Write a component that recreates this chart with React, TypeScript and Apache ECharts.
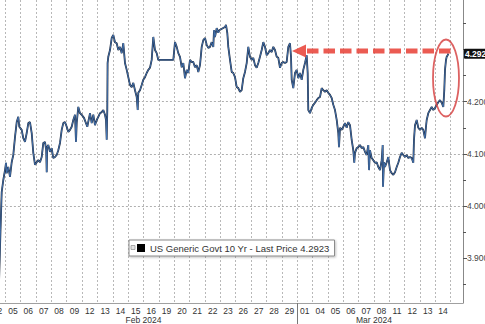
import React, { useEffect, useRef } from 'react';
import * as echarts from 'echarts';

// Trading-day labels (index 0 = Feb 02 ... index 29 = Mar 14)
const dayLabels = ['02','05','06','07','08','09','12','13','14','15','16','19','20','21','22','23','26','27','28','29','01','04','05','06','07','08','11','12','13','14'];
const monthNames = ['Feb 2024', 'Mar 2024'];
const monthFirstDay = [0, 20];
const monthLastDay = [19, 29];

const yLabelValues = [3.9, 4.0, 4.1, 4.2];
const yMajorValues = [3.9, 4.0, 4.1, 4.2, 4.3];
const yMinorValues = [3.85, 3.95, 4.05, 4.15, 4.25, 4.35];

const seriesName = 'US Generic Govt 10 Yr - Last Price';
const lastPriceFull = 4.2923;

// Intraday position (fractional trading-day index) and yield (%)
const tradingDayPos = [-0.234,0.091,0.189,0.267,0.371,0.482,0.547,0.592,0.697,0.807,0.918,1.022,1.133,1.244,1.348,1.413,1.569,1.673,1.784,1.895,1.999,2.109,2.220,2.324,2.435,2.546,2.650,2.760,2.871,2.975,3.086,3.164,3.197,3.229,3.301,3.411,3.522,3.626,3.737,3.848,3.952,4.063,4.173,4.277,4.388,4.499,4.603,4.714,4.824,4.928,5.039,5.104,5.150,5.254,5.365,5.475,5.625,5.840,6.016,6.126,6.231,6.341,6.452,6.556,6.667,6.777,6.881,6.992,7.057,7.103,7.142,7.161,7.207,7.318,7.428,7.532,7.643,7.754,7.858,7.969,8.079,8.184,8.294,8.405,8.509,8.620,8.730,8.835,8.945,9.056,9.121,9.160,9.271,9.381,9.486,9.596,9.707,9.811,9.922,10.032,10.137,10.247,10.358,10.462,11.439,11.549,11.660,11.764,11.875,11.986,12.090,12.201,12.311,12.415,12.526,12.637,12.741,12.852,12.962,13.066,13.177,13.288,13.392,13.503,13.613,13.717,13.828,13.939,14.043,14.089,14.154,14.264,14.368,14.433,14.805,14.870,14.954,15.020,15.130,15.241,15.345,15.456,15.567,15.671,15.781,15.892,15.996,16.107,16.217,16.322,16.432,16.543,16.647,16.758,16.868,16.973,17.083,17.194,17.298,17.409,17.519,17.623,17.734,17.845,17.949,18.060,18.170,18.275,18.385,18.496,18.600,18.711,18.821,18.926,19.036,19.102,19.147,19.251,19.362,19.472,19.576,19.687,19.798,19.902,20.013,20.123,20.188,20.228,20.339,20.449,20.553,20.664,20.775,20.879,20.990,21.100,21.204,21.315,21.426,21.530,21.641,21.751,21.855,21.966,22.077,22.181,22.227,22.292,22.402,22.506,22.617,22.728,22.832,22.943,23.053,23.157,23.222,23.268,23.379,23.483,23.594,23.704,23.809,23.919,24.030,24.134,24.180,24.245,24.355,24.459,24.570,24.681,24.785,24.896,25.006,25.071,25.091,25.156,25.221,25.332,25.436,25.547,25.658,25.762,25.873,25.983,26.087,26.198,26.309,26.413,26.523,26.634,26.738,26.849,26.960,27.064,27.109,27.174,27.285,27.389,27.500,27.611,27.715,27.826,27.891,27.936,28.040,28.151,28.262,28.366,28.477,28.587,28.691,28.802,28.913,29.017,29.082,29.128,29.193,29.238,29.303,29.342];

const yieldPct = [3.862,3.853,3.954,4.027,4.050,4.069,4.083,4.063,4.075,4.056,4.084,4.098,4.132,4.161,4.171,4.152,4.146,4.130,4.123,4.140,4.159,4.161,4.140,4.102,4.079,4.084,4.088,4.084,4.094,4.121,4.123,4.107,4.065,4.113,4.117,4.104,4.111,4.092,4.094,4.098,4.107,4.121,4.146,4.159,4.161,4.152,4.142,4.146,4.152,4.165,4.175,4.123,4.159,4.190,4.178,4.175,4.169,4.152,4.178,4.159,4.175,4.155,4.165,4.171,4.178,4.180,4.184,4.175,4.165,4.127,4.184,4.274,4.286,4.299,4.322,4.328,4.314,4.312,4.299,4.305,4.293,4.312,4.274,4.261,4.247,4.232,4.228,4.236,4.222,4.209,4.184,4.217,4.222,4.232,4.242,4.247,4.255,4.261,4.265,4.280,4.324,4.299,4.293,4.280,4.280,4.314,4.305,4.293,4.286,4.266,4.274,4.245,4.261,4.255,4.280,4.276,4.276,4.266,4.270,4.257,4.270,4.305,4.318,4.322,4.309,4.303,4.305,4.314,4.305,4.337,4.324,4.341,4.332,4.337,4.343,4.347,4.332,4.305,4.280,4.257,4.255,4.247,4.228,4.226,4.219,4.222,4.245,4.257,4.274,4.305,4.286,4.280,4.284,4.270,4.265,4.274,4.286,4.299,4.314,4.305,4.289,4.293,4.299,4.295,4.305,4.299,4.286,4.284,4.265,4.274,4.276,4.274,4.276,4.305,4.312,4.286,4.242,4.226,4.255,4.261,4.245,4.255,4.242,4.261,4.274,4.289,4.255,4.184,4.178,4.188,4.194,4.198,4.203,4.207,4.209,4.226,4.222,4.219,4.222,4.217,4.213,4.207,4.194,4.184,4.165,4.140,4.113,4.150,4.146,4.152,4.159,4.150,4.161,4.155,4.127,4.107,4.083,4.102,4.111,4.113,4.117,4.111,4.113,4.104,4.098,4.117,4.069,4.107,4.092,4.088,4.083,4.084,4.075,4.069,4.088,4.117,4.037,4.084,4.075,4.084,4.094,4.069,4.063,4.060,4.065,4.075,4.083,4.094,4.102,4.098,4.094,4.098,4.092,4.094,4.092,4.083,4.127,4.155,4.165,4.150,4.146,4.150,4.146,4.130,4.152,4.165,4.178,4.184,4.190,4.184,4.188,4.194,4.199,4.203,4.198,4.190,4.222,4.261,4.280,4.286,4.289,4.292];

const FONT = "'Liberation Sans', Arial, sans-serif";

export default function App() {
  const ref = useRef<HTMLDivElement>(null);
  useEffect(() => {
    if (!ref.current) return;
    const chart = echarts.init(ref.current, null, { renderer: 'svg' });
    const n = Math.min(tradingDayPos.length, yieldPct.length);
    const data: number[][] = [];
    for (let i = 0; i < n; i++) data.push([tradingDayPos[i], yieldPct[i]]);
    const last = yieldPct[n - 1];
    const monthCenters = monthNames.map((_, i) => (monthFirstDay[i] + monthLastDay[i]) / 2);
    const monthBounds = monthFirstDay.slice(1).map((d) => d - 0.5);

    chart.setOption({
      animation: false,
      backgroundColor: '#ffffff',
      grid: { left: -10.08, right: 22, top: 0, bottom: 21, outerBoundsMode: 'none', containLabel: false },
      xAxis: [
        {
          type: 'value', min: -0.5, max: 30.3, interval: 1, position: 'bottom',
          axisLine: { show: true, lineStyle: { color: '#a0a0a0', width: 1 } },
          axisTick: { show: false },
          splitLine: { show: true, showMinLine: false, showMaxLine: false, lineStyle: { color: '#b8b8b8', type: [2, 2], width: 1 } },
          axisLabel: {
            customValues: dayLabels.map((_, i) => i),
            formatter: (v: number) => dayLabels[Math.round(v)] ?? '',
            color: '#333', fontSize: 8.5, lineHeight: 9, fontFamily: FONT, margin: 3,
          },
        },
        {
          type: 'value', min: -0.5, max: 30.3, position: 'bottom',
          axisLine: { show: false },
          splitLine: { show: false },
          axisTick: { show: true, customValues: monthBounds, length: 22, lineStyle: { color: '#777', width: 1 } },
          axisLabel: {
            customValues: monthCenters,
            formatter: (v: number) => {
              const i = monthCenters.findIndex((c) => Math.abs(c - v) < 1e-6);
              return i >= 0 ? monthNames[i] : '';
            },
            color: '#333', fontSize: 8.5, lineHeight: 9, fontFamily: FONT, margin: 12,
          },
        },
      ],
      yAxis: [
        {
          type: 'value', position: 'right', min: 3.8144, max: 4.3948,
          axisLine: { show: true, onZero: false, lineStyle: { color: '#888', width: 1 } },
          axisTick: { show: true, customValues: yMajorValues, length: 4, lineStyle: { color: '#555' } },
          splitLine: { show: true, showMinLine: false, showMaxLine: false, lineStyle: { color: '#b0b0b0', type: [2, 2], width: 1 } },
          axisLabel: {
            customValues: [...yLabelValues, last],
            formatter: (v: number) => (Math.abs(v - last) < 1e-9 ? `{last|${v.toFixed(3)}}` : `{n|${v.toFixed(3)}}`),
            color: '#444', fontSize: 8.5, fontFamily: FONT, margin: 1,
            rich: {
              n: { color: '#444', fontSize: 8.5, fontFamily: FONT, padding: [0, 0, 0, 3] },
              last: { backgroundColor: '#111', color: '#fff', fontSize: 8.5, fontWeight: 'bold', fontFamily: FONT, padding: [1, 1, 0, 1], borderRadius: 1 },
            },
          },
        },
        {
          type: 'value', position: 'right', min: 3.8144, max: 4.3948,
          axisLine: { show: false, onZero: false },
          axisTick: { show: true, customValues: yMinorValues, length: 3, lineStyle: { color: '#555' } },
          splitLine: { show: false },
          axisLabel: { show: false },
        },
      ],
      legend: {
        data: [seriesName],
        left: 129, top: 240,
        orient: 'horizontal',
        padding: [3, 5, 3, 8],
        itemWidth: 8, itemHeight: 8, itemGap: 4,
        icon: 'rect',
        backgroundColor: '#fff',
        borderColor: '#8a8a8a', borderWidth: 1,
        shadowColor: 'rgba(0,0,0,0.25)', shadowBlur: 2, shadowOffsetX: 1, shadowOffsetY: 1,
        formatter: (name: string) => `${name} ${lastPriceFull.toFixed(4)}`,
        textStyle: { color: '#333', fontSize: 9.5, fontFamily: FONT },
        itemStyle: { color: '#000' },
      },
      series: [
        {
          type: 'line', name: seriesName, data, showSymbol: false, z: 2,
          itemStyle: { color: '#000' },
          lineStyle: { color: '#1c2638', width: 1.8 },
        },
        {
          type: 'line', name: 'blue', data, showSymbol: false, z: 3, silent: true,
          lineStyle: { color: '#4b80c4', width: 0.8 },
        },
      ],
      graphic: [
        { type: 'rect', z: 120, shape: { x: 131, y: 245.5, width: 4, height: 4 }, style: { fill: '#e4e4e4', stroke: '#999', lineWidth: 0.8 } },
        { type: 'polygon', z: 110, shape: { points: [[292, 51], [306, 44.5], [306, 57.5]] }, style: { fill: 'rgba(232,62,52,0.85)' } },
        { type: 'line', z: 110, shape: { x1: 307, y1: 51, x2: 455, y2: 51 }, style: { stroke: 'rgba(232,62,52,0.85)', lineWidth: 5, lineDash: [11.5, 5] } },
        { type: 'ellipse', z: 110, shape: { cx: 446, cy: 78, rx: 13, ry: 38.5 }, style: { fill: 'none', stroke: 'rgba(215,70,70,0.85)', lineWidth: 1.8 } },
      ],
    });
    return () => chart.dispose();
  }, []);
  return <div ref={ref} style={{ position: 'fixed', left: 0, top: 0, width: 485, height: 324 }} />;
}
